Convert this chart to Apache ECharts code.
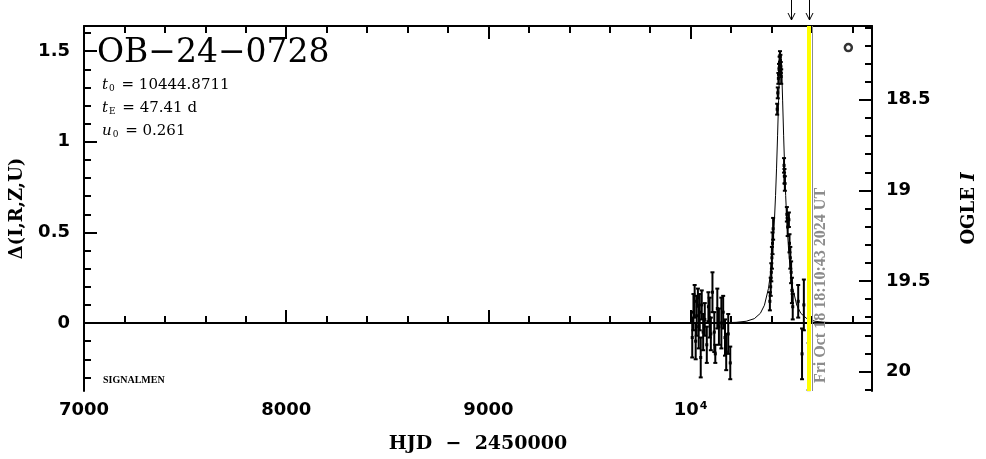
<!DOCTYPE html>
<html><head><meta charset="utf-8">
<script src="https://cdn.jsdelivr.net/npm/echarts@6/dist/echarts.min.js"></script>
<style>html,body{margin:0;padding:0;background:#fff}#c{width:986px;height:459px}</style>
</head><body><div id="c"></div>
<script>
// ---- axis ranges & ticks ----
const xMin = 7000, xMax = 10897;
const yMin = -0.375, yMax = 1.639;
const magMin = 18.093, magMax = 20.107;
const xMajorTicks = [7000, 8000, 9000, 10000];
const xMinorTicks = [7200,7400,7600,7800,8200,8400,8600,8800,9200,9400,9600,9800,10200,10400,10600,10800];
const yLeftMajor = [0, 0.5, 1, 1.5];
const yLeftMinor = [-0.3,-0.2,-0.1,0.1,0.2,0.3,0.4,0.6,0.7,0.8,0.9,1.1,1.2,1.3,1.4,1.6];
const yRightMajor = [18.5, 19, 19.5, 20];
const yRightMinor = [18.1,18.2,18.3,18.4,18.6,18.7,18.8,18.9,19.1,19.2,19.3,19.4,19.6,19.7,19.8,19.9,20.1];

// ---- observations: HJD-2450000, delta mag, error ----
const obsT = [10008,10014,10020,10025,10030,10036,10040,10045,10050,10055,10062,10070,10080,10088,10094,10100,10108,10117,10122,10132,10140,10152,10161,10170,10176,10186,10196,
  10392,10396,10399,10402,10405,10408,
  10428,10431,10434,10437,10440,10442,10444,10446,10448,
  10462,10464,10466,10476,10480,10486,10489,10493,10497,10501,10505,
  10532,10551,10560,10584];
const obsD = [-0.08,0.06,0.12,-0.10,0.04,0.14,-0.02,0.06,-0.19,0.10,-0.05,0.02,-0.12,0.09,0.03,-0.06,0.17,-0.05,-0.17,0.08,-0.02,0.00,0.06,-0.08,-0.16,-0.06,-0.22,
  0.12,0.20,0.28,0.36,0.44,0.52,
  1.18,1.27,1.35,1.40,1.44,1.47,1.45,1.41,1.36,
  0.87,0.81,0.77,0.60,0.53,0.57,0.44,0.36,0.28,0.18,0.09,
  0.12,-0.17,0.10,-0.24];
const obsErr = [0.11,0.10,0.09,0.10,0.11,0.05,0.12,0.10,0.11,0.08,0.10,0.09,0.10,0.08,0.11,0.09,0.11,0.11,0.05,0.11,0.10,0.14,0.09,0.10,0.10,0.11,0.09,
  0.05,0.05,0.05,0.06,0.06,0.06,
  0.03,0.03,0.03,0.03,0.03,0.03,0.03,0.03,0.04,
  0.04,0.04,0.04,0.04,0.05,0.04,0.05,0.06,0.06,0.07,0.07,
  0.09,0.14,0.14,0.13];

// ---- model curve ----
const modelT = [7000,10145,10225,10275,10315,10345,10365,10385,10395,10405,10415,10420,10425,10430,10435,10440,10444.87,10450,10455,10460,10465,10470,10475,10485,10495,10505,10525,10545,10575,10615,10665,10745,10897];
const modelD = [0,0.0014,0.0039,0.0098,0.0241,0.0537,0.0983,0.1913,0.2733,0.3957,0.5800,0.7041,0.8548,1.0330,1.2299,1.4079,1.4856,1.4079,1.2299,1.0330,0.8548,0.7041,0.5800,0.3957,0.2733,0.1913,0.0983,0.0537,0.0241,0.0098,0.0039,0.0014,0.0003];

// ---- other marks ----
const ogleT = [10780], ogleD = [1.52];
const arrowT = [10497, 10586];
const yellowT = 10586;
const nowT = 10602.26;
const nowLabel = 'Fri Oct 18 18:10:43 2024 UT';
const eventName = 'OB−24−0728';
const paramLines = [['t','0','10444.8711'],['t','E','47.41 d'],['u','0','0.261']];
const footer = 'SIGNALMEN';

const tickLabelStyle = {color:'#000', fontSize:18, fontWeight:'bold', fontFamily:'"DejaVu Sans", sans-serif'};
const serif = '"DejaVu Serif", "Liberation Serif", serif';
const nameStyle = {color:'#000', fontSize:18, fontWeight:'bold', fontFamily:serif};

function axisCommon(extra) {
  return Object.assign({type:'value', splitLine:{show:false}}, extra);
}
const tickStyle = {color:'#000', width:2};

const option = {
  animation: false,
  backgroundColor: '#fff',
  grid: {left: 83, right: 103, top: 26, bottom: 57, containLabel: false},
  xAxis: [
    axisCommon({position:'bottom', min:xMin, max:xMax,
      axisLine:{show:true, lineStyle:{color:'#000', width:2}},
      axisTick:{show:true, inside:true, length:13, lineStyle:tickStyle, customValues:xMajorTicks},
      axisLabel:Object.assign({show:true, margin:10, customValues:xMajorTicks,
        formatter:v => v === 10000 ? '{a|10}{s|4}' : '{a|' + v + '}',
        rich:{a:Object.assign({}, tickLabelStyle), s:Object.assign({}, tickLabelStyle, {fontSize:11, verticalAlign:'top', padding:[0,0,0,1]})}
      }, tickLabelStyle),
      name:'HJD  −  2450000', nameLocation:'middle', nameGap:44,
      nameTextStyle:Object.assign({}, nameStyle, {fontSize:19})
    }),
    axisCommon({position:'bottom', min:xMin, max:xMax, axisLine:{show:false},
      axisTick:{show:true, inside:true, length:7, lineStyle:tickStyle, customValues:xMinorTicks},
      axisLabel:{show:false}}),
    axisCommon({position:'top', min:xMin, max:xMax,
      axisLine:{show:true, lineStyle:{color:'#000', width:2}},
      axisTick:{show:true, inside:true, length:13, lineStyle:tickStyle, customValues:xMajorTicks},
      axisLabel:{show:false}}),
    axisCommon({position:'top', min:xMin, max:xMax, axisLine:{show:false},
      axisTick:{show:true, inside:true, length:7, lineStyle:tickStyle, customValues:xMinorTicks},
      axisLabel:{show:false}})
  ],
  yAxis: [
    axisCommon({position:'left', min:yMin, max:yMax,
      axisLine:{show:true, lineStyle:{color:'#000', width:2}},
      axisTick:{show:true, inside:true, length:13, lineStyle:tickStyle, customValues:yLeftMajor},
      axisLabel:Object.assign({show:true, margin:14, customValues:yLeftMajor}, tickLabelStyle),
      name:'Δ(I,R,Z,U)', nameLocation:'middle', nameGap:58, nameRotate:90,
      nameTextStyle:nameStyle
    }),
    axisCommon({position:'left', min:yMin, max:yMax, axisLine:{show:false},
      axisTick:{show:true, inside:true, length:7, lineStyle:tickStyle, customValues:yLeftMinor},
      axisLabel:{show:false}}),
    axisCommon({position:'right', min:magMin, max:magMax, inverse:true,
      axisLine:{show:true, lineStyle:{color:'#000', width:2}},
      axisTick:{show:true, inside:true, length:13, lineStyle:tickStyle, customValues:yRightMajor},
      axisLabel:Object.assign({show:true, margin:14, customValues:yRightMajor}, tickLabelStyle),
      name:'{n|OGLE }{i|I}', nameLocation:'middle', nameGap:88, nameRotate:90,
      nameTextStyle:Object.assign({}, nameStyle, {
        rich:{n:Object.assign({}, nameStyle), i:Object.assign({}, nameStyle, {fontStyle:'italic'})}})
    }),
    axisCommon({position:'right', min:magMin, max:magMax, inverse:true, axisLine:{show:false},
      axisTick:{show:true, inside:true, length:7, lineStyle:tickStyle, customValues:yRightMinor},
      axisLabel:{show:false}})
  ],
  graphic: [
    {type:'text', left:97, top:37, style:{text:eventName, font:'33px ' + serif, fill:'#000'}},
    ...paramLines.map((p, i) => ({
      type:'text', left:102, top:78 + i * 23,
      style:{text:'{v|' + p[0] + '}{s|' + p[1] + '}{m| = ' + p[2] + '}', fill:'#000',
        rich:{
          v:{font:'italic 15px ' + serif, fill:'#000', lineHeight:18, verticalAlign:'bottom'},
          s:{font:'9px ' + serif, fill:'#000', lineHeight:14, verticalAlign:'bottom', padding:[0,2,0,1]},
          m:{font:'15px ' + serif, fill:'#000', lineHeight:18, verticalAlign:'bottom'}
        }}
    })),
    {type:'text', left:103, top:375, style:{text:footer, font:'bold 10px "Liberation Serif", serif', fill:'#000'}}
  ],
  series: [
    {type:'line', xAxisIndex:0, yAxisIndex:0, data:[], z:1, silent:true,
      markLine:{silent:true, symbol:'none', label:{show:false}, animation:false,
        data:[{xAxis:yellowT, lineStyle:{color:'#ffff00', width:4, type:'solid'}},
              {xAxis:nowT, lineStyle:{color:'#8c8c8c', width:1, type:'solid'}}]}},
    {type:'line', xAxisIndex:0, yAxisIndex:0, data:modelT.map((t, i) => [t, modelD[i]]),
      showSymbol:false, symbol:'none', lineStyle:{color:'#000', width:1}, z:2, silent:true},
    {type:'custom', xAxisIndex:0, yAxisIndex:0, z:3, silent:true,
      data:obsT.map((t, i) => [t, obsD[i], obsErr[i]]),
      encode:{x:0, y:1},
      renderItem:function (params, api) {
        const t = api.value(0), d = api.value(1), e = api.value(2);
        const p = api.coord([t, d]);
        const hi = api.coord([t, d + e]);
        const lo = api.coord([t, d - e]);
        const st = {stroke:'#000', lineWidth:2};
        return {type:'group', children:[
          {type:'line', shape:{x1:p[0], y1:hi[1], x2:p[0], y2:lo[1]}, style:st},
          {type:'line', shape:{x1:p[0]-2, y1:hi[1], x2:p[0]+2, y2:hi[1]}, style:st},
          {type:'line', shape:{x1:p[0]-2, y1:lo[1], x2:p[0]+2, y2:lo[1]}, style:st},
          {type:'rect', shape:{x:p[0]-1.5, y:p[1]-1.5, width:3, height:3}, style:{fill:'#000'}}
        ]};
      }},
    {type:'scatter', xAxisIndex:0, yAxisIndex:0, z:3, silent:true,
      data:ogleT.map((t, i) => [t, ogleD[i]]), symbol:'circle', symbolSize:7,
      itemStyle:{color:'#fff', borderColor:'#000', borderWidth:2.5}},
    {type:'custom', xAxisIndex:0, yAxisIndex:0, z:4, silent:true, clip:false,
      data:arrowT.map(t => [t, yMax]), encode:{x:0, y:1},
      renderItem:function (params, api) {
        const p = api.coord([api.value(0), api.value(1)]);
        const x = Math.round(p[0]) + 0.5;
        const top = params.coordSys.y;
        const y0 = top - 26, y1 = top - 6;
        const st = {stroke:'#000', lineWidth:1, fill:null};
        return {type:'group', children:[
          {type:'line', shape:{x1:x, y1:y0, x2:x, y2:y1}, style:st},
          {type:'polyline', shape:{points:[[x-3.5, y1-7], [x, y1], [x+3.5, y1-7]]}, style:st}
        ]};
      }},
    {type:'custom', xAxisIndex:0, yAxisIndex:0, z:4, silent:true, clip:false,
      data:[[nowT, yMin]], encode:{x:0, y:1},
      renderItem:function (params, api) {
        const p = api.coord([api.value(0), api.value(1)]);
        return {type:'text', x:p[0] + 8, y:p[1] - 8, rotation:Math.PI / 2,
          style:{text:nowLabel, fill:'#8c8c8c', font:'bold 16px "Liberation Serif", serif',
            align:'left', verticalAlign:'middle', textAlign:'left', textVerticalAlign:'middle'}};
      }}
  ]
};
const chart = echarts.init(document.getElementById('c'), null, {renderer:'canvas'});
chart.setOption(option);
</script>
</body></html>
